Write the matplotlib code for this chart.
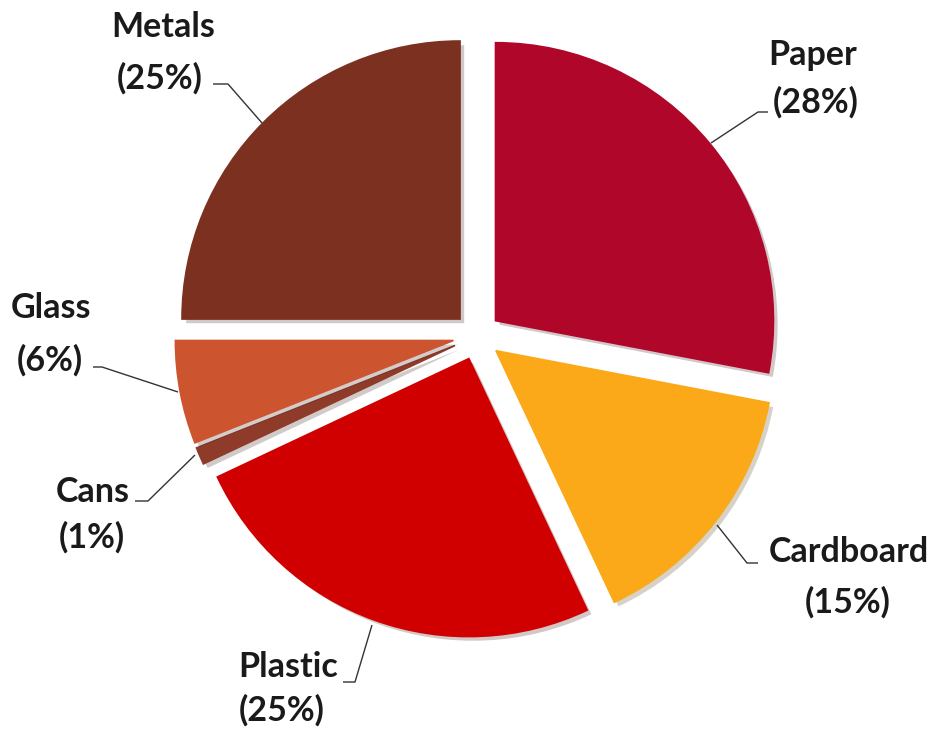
import matplotlib
matplotlib.use("Agg")
import matplotlib.pyplot as plt
from matplotlib import patheffects as pe

categories = ["Paper", "Cardboard", "Plastic", "Cans", "Glass", "Metals"]
values = [28, 15, 25, 1, 6, 25]
colors = ["#B0062A", "#FBA919", "#D00000", "#8E3B2A", "#CC5530", "#7B3020"]

W, H = 934, 732
fig = plt.figure(figsize=(W / 100, H / 100), dpi=100)
ax = fig.add_axes([0, 0, 1, 1])

def Y(py):
    return H - py

cx, cy, R = 477, Y(336), 278
explode_px = 24  # pie's explode is in data units here
wedges, _ = ax.pie(values, colors=colors, startangle=90, counterclock=False,
                   center=(cx, cy), radius=R, explode=[explode_px] * len(values),
                   wedgeprops=dict(linewidth=1.2))
for w, c in zip(wedges, colors):
    w.set_edgecolor(matplotlib.colors.to_rgba(c, 1.0))
    w.set_path_effects([pe.SimplePatchShadow(offset=(3, -3), alpha=0.22),
                        pe.Normal()])

ax.set_xlim(0, W)
ax.set_ylim(0, H)
ax.set_aspect("equal")
ax.axis("off")

font = dict(family=["Lato", "DejaVu Sans"], fontweight="bold", fontsize=24.5,
            color="#1a1a1a", ha="center", va="center")

label_pos = {
    "Paper": ((813, 55), (816, 102)),
    "Cardboard": ((849, 552), (848, 602)),
    "Plastic": ((288, 667), (282, 710)),
    "Cans": ((93, 492), (92, 537)),
    "Glass": ((51, 308), (50, 360)),
    "Metals": ((163, 27), (160, 78)),
}
leaders = {
    "Paper": [(768, 112), (758, 112), (711, 143)],
    "Cardboard": [(758, 563), (747, 563), (717, 525)],
    "Plastic": [(343, 682), (355, 682), (372, 625)],
    "Cans": [(135, 501), (148, 501), (195, 455)],
    "Glass": [(93, 367), (102, 367), (178, 392)],
    "Metals": [(213, 84), (228, 84), (262, 123)],
}

for cat, val in zip(categories, values):
    (nx, ny), (px, py) = label_pos[cat]
    ax.text(nx, Y(ny), cat, **font)
    ax.text(px, Y(py), f"({val}%)", **font)
    pts = leaders[cat]
    ax.plot([p[0] for p in pts], [Y(p[1]) for p in pts], color="#333333",
            linewidth=1.0, solid_capstyle="butt")

fig.savefig("out.png", dpi=100, facecolor="white")
